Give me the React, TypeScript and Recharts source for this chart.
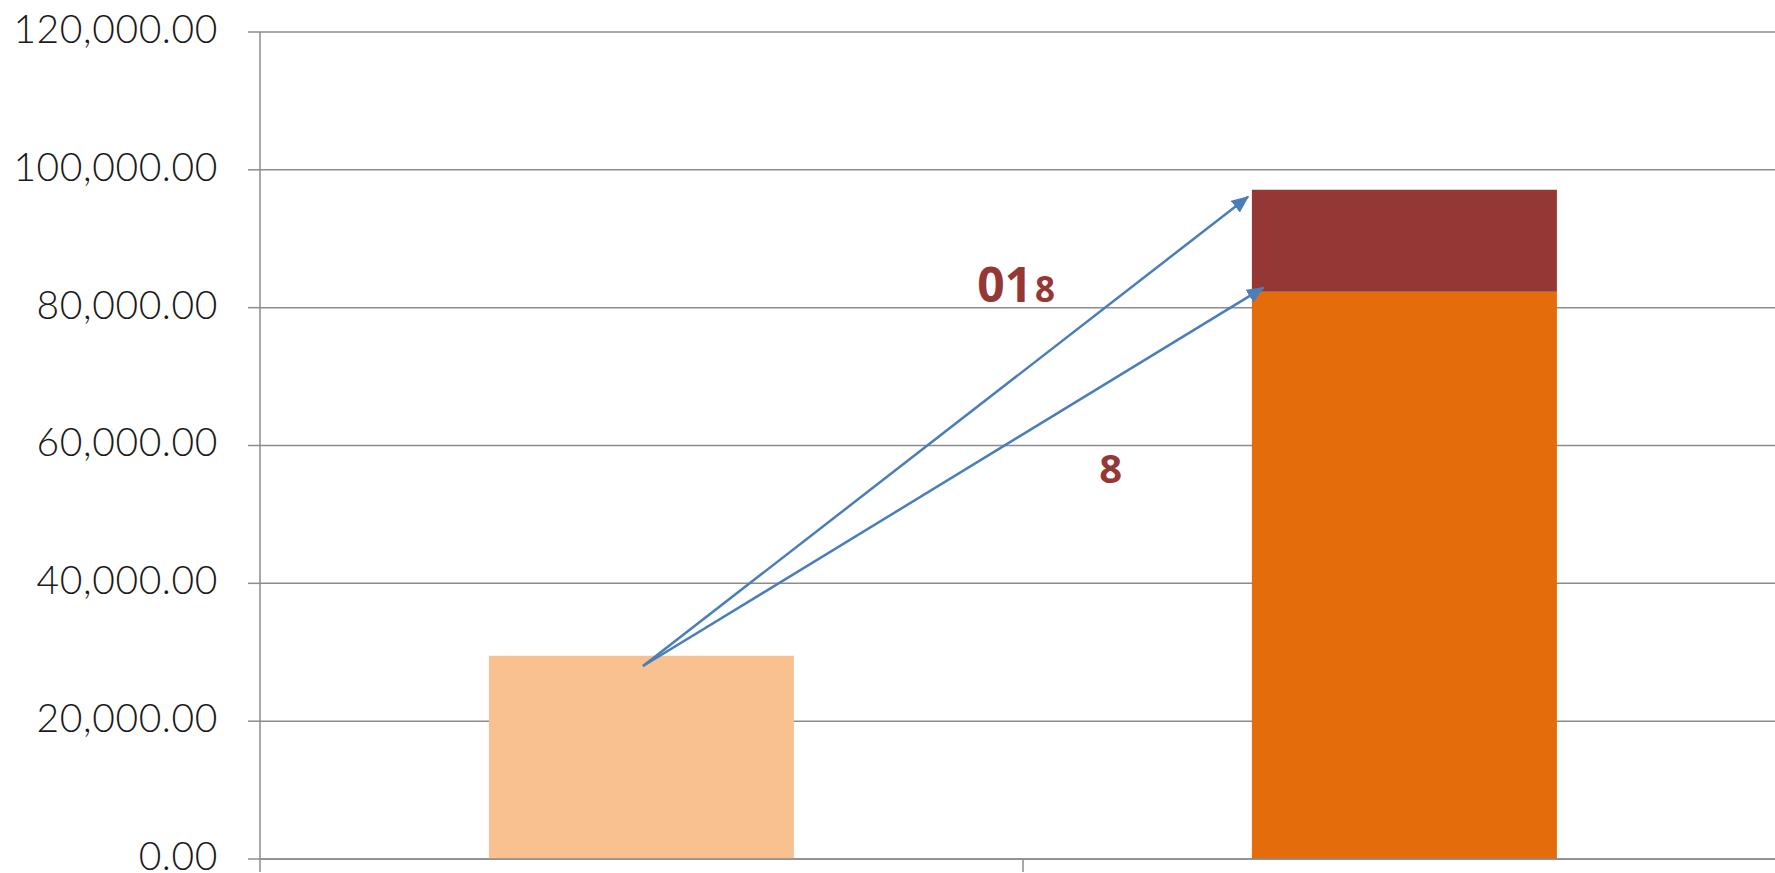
import {
  Bar,
  BarChart,
  CartesianGrid,
  ReferenceDot,
  ReferenceLine,
  XAxis,
  YAxis
} from 'recharts'

const categories = ['Base', 'Total']
const categoryPositions = [0.5, 1.5]
const baseValues = [29500, 0]
const mainValues = [0, 82300]
const extraValues = [0, 14800]
const yTicks = [0, 20000, 40000, 60000, 80000, 100000, 120000]
const boundaryTicks = [0, 1, 2]

// arrows & labels, in (band position, value) units
const arrowStart = { x: 0.502, y: 28000 }
const arrowEnds = [
  { x: 1.295, y: 96100 },
  { x: 1.315, y: 82900 }
]
const labels = [
  { x: 0.94, y: 80800, big: '01', small: '8' },
  { x: 1.1, y: 54600, big: '', small: '8' }
]

const GRID = '#8c8c8c'
const ARROW = '#4a7ebb'
const LABEL = '#953735'

const data = categories.map((name, i) => ({
  name,
  pos: categoryPositions[i],
  base: baseValues[i],
  main: mainValues[i],
  extra: extraValues[i]
}))

const formatValue = (v: number) =>
  v.toLocaleString('en-US', { minimumFractionDigits: 2, maximumFractionDigits: 2 })

export default function App() {
  return (
    <div style={{ position: 'fixed', left: 0, top: 0, width: 1775, height: 873, overflow: 'hidden', background: '#fff' }}>
      <BarChart
        width={1800}
        height={873}
        data={data}
        margin={{ top: 32, right: 14, bottom: 0, left: 0 }}
        barCategoryGap="30%"
      >
        <defs>
          <marker id="arrowHead" markerWidth="7" markerHeight="6" refX="6.5" refY="3" orient="auto" markerUnits="strokeWidth">
            <path d="M0,0 L7,3 L0,6 z" fill={ARROW} />
          </marker>
        </defs>
        <CartesianGrid vertical={false} stroke={GRID} strokeWidth={1.5} />
        <XAxis
          dataKey="pos"
          type="number"
          domain={[0, 2]}
          allowDataOverflow
          ticks={boundaryTicks}
          interval={0}
          height={14}
          tickSize={13}
          tickFormatter={() => ''}
          axisLine={{ stroke: GRID, strokeWidth: 1.5 }}
          tickLine={{ stroke: GRID, strokeWidth: 1.5 }}
        />
        <YAxis
          width={260}
          domain={[0, 120000]}
          ticks={yTicks}
          interval={0}
          tickFormatter={formatValue}
          tickSize={12}
          tickMargin={30}
          axisLine={{ stroke: GRID, strokeWidth: 1.5 }}
          tickLine={{ stroke: GRID, strokeWidth: 1.5 }}
          tick={{ fill: '#1a1a1a', fontSize: 39, fontFamily: 'Lato', fontWeight: 300, letterSpacing: 0.6, dy: -3 }}
        />
        <Bar dataKey="base" stackId="s" fill="#f9c090" isAnimationActive={false} />
        <Bar dataKey="main" stackId="s" fill="#e46c0a" isAnimationActive={false} />
        <Bar dataKey="extra" stackId="s" fill="#953735" isAnimationActive={false} />
        {arrowEnds.map((end, i) => (
          <ReferenceLine
            key={i}
            segment={[arrowStart, end]}
            ifOverflow="visible"
            shape={(p: any) => (
              <line
                x1={p.x1}
                y1={p.y1}
                x2={p.x2}
                y2={p.y2}
                stroke={ARROW}
                strokeWidth={2.5}
                markerEnd="url(#arrowHead)"
              />
            )}
          />
        ))}
        {labels.map((l, i) => (
          <ReferenceDot
            key={i}
            x={l.x}
            y={l.y}
            r={0}
            ifOverflow="visible"
            shape={(p: any) => (
              <text x={p.cx} y={p.cy} fill={LABEL} fontFamily="Open Sans" fontWeight={700}>
                {l.big && <tspan fontSize={48}>{l.big}</tspan>}
                <tspan fontSize={l.big ? 35 : 40} dx={l.big ? 3 : 0}>{l.small}</tspan>
              </text>
            )}
          />
        ))}
      </BarChart>
    </div>
  )
}
